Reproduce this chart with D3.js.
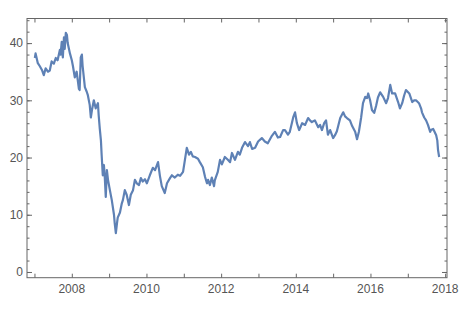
<!DOCTYPE html>
<html>
<head>
<meta charset="utf-8">
<script src="https://cdn.jsdelivr.net/npm/d3@7"></script>
<style>
  body { margin: 0; background: #fff; }
  svg { display: block; }
</style>
</head>
<body>
<div id="chart"></div>
<script>
// decimal year of each sample
const dates = [
  2007.01, 2007.03, 2007.09, 2007.14, 2007.20, 2007.25, 2007.30, 2007.36, 2007.41, 2007.46,
  2007.52, 2007.57, 2007.62, 2007.68, 2007.70, 2007.73, 2007.76, 2007.79, 2007.81, 2007.84,
  2007.87, 2007.89, 2007.95, 2008.00, 2008.03, 2008.08, 2008.13, 2008.19, 2008.21, 2008.24,
  2008.27, 2008.29, 2008.35, 2008.40, 2008.43, 2008.48, 2008.51, 2008.54, 2008.59, 2008.64,
  2008.70, 2008.72, 2008.75, 2008.78, 2008.80, 2008.83, 2008.86, 2008.88, 2008.91, 2008.94,
  2008.97, 2009.02, 2009.07, 2009.13, 2009.15, 2009.18, 2009.21, 2009.23, 2009.29, 2009.34,
  2009.37, 2009.42, 2009.47, 2009.53, 2009.58, 2009.64, 2009.69, 2009.74, 2009.80, 2009.85,
  2009.90, 2009.96, 2010.01, 2010.09, 2010.17, 2010.23, 2010.31, 2010.36, 2010.41, 2010.49,
  2010.55, 2010.63, 2010.68, 2010.76, 2010.84, 2010.90, 2010.98, 2011.03, 2011.08, 2011.14,
  2011.19, 2011.24, 2011.30, 2011.38, 2011.43, 2011.51, 2011.57, 2011.62, 2011.65, 2011.70,
  2011.75, 2011.81, 2011.83, 2011.91, 2011.97, 2012.02, 2012.10, 2012.18, 2012.24, 2012.29,
  2012.37, 2012.45, 2012.50, 2012.56, 2012.64, 2012.72, 2012.77, 2012.83, 2012.91, 2012.99,
  2013.09, 2013.17, 2013.25, 2013.36, 2013.44, 2013.52, 2013.58, 2013.66, 2013.71, 2013.79,
  2013.84, 2013.93, 2013.98, 2014.03, 2014.09, 2014.17, 2014.25, 2014.33, 2014.38, 2014.43,
  2014.51, 2014.60, 2014.65, 2014.70, 2014.76, 2014.81, 2014.86, 2014.92, 2015.00, 2015.05,
  2015.10, 2015.19, 2015.27, 2015.32, 2015.37, 2015.45, 2015.51, 2015.59, 2015.64, 2015.69,
  2015.75, 2015.80, 2015.86, 2015.91, 2015.94, 2015.99, 2016.04, 2016.10, 2016.15, 2016.20,
  2016.26, 2016.34, 2016.42, 2016.47, 2016.53, 2016.58, 2016.66, 2016.74, 2016.79, 2016.85,
  2016.90, 2016.95, 2017.04, 2017.12, 2017.17, 2017.22, 2017.30, 2017.36, 2017.38, 2017.44,
  2017.49, 2017.54, 2017.60, 2017.62, 2017.68, 2017.71, 2017.76, 2017.79, 2017.81, 2017.84
];

const prices = [
  37.4, 38.2, 36.5, 36.0, 35.3, 34.4, 35.6, 35.0, 35.2, 36.8,
  36.4, 37.4, 37.0, 38.8, 38.0, 40.2, 37.5, 41.0, 39.0, 41.8,
  41.4, 40.0, 38.2, 37.0, 36.0, 34.0, 35.0, 32.0, 31.8, 37.5,
  38.0, 36.0, 32.3, 31.5, 30.9, 29.2, 27.0, 28.3, 30.0, 28.6,
  29.5, 27.4, 25.0, 23.0, 20.4, 16.9, 18.7, 17.0, 13.1, 17.8,
  16.1, 14.3, 12.6, 10.0, 8.5, 6.8, 8.5, 9.5, 10.4, 12.0,
  12.6, 14.3, 13.5, 11.7, 13.5, 14.3, 16.1, 15.5, 15.2, 16.4,
  15.8, 16.2, 15.5, 16.9, 18.2, 17.8, 19.2, 16.8, 15.0, 13.8,
  15.5, 16.4, 16.9, 16.5, 17.0, 16.8, 17.5, 19.6, 21.7, 20.5,
  21.0, 20.2, 20.1, 19.8, 19.2, 18.3, 16.6, 15.5, 16.1, 15.2,
  16.5, 15.0, 16.0, 17.5, 19.6, 18.8, 20.1, 19.6, 19.2, 20.8,
  19.6, 21.0, 20.5, 21.7, 22.7, 22.0, 22.7, 21.5, 21.7, 22.8,
  23.4, 22.8, 22.5, 23.8, 24.5, 23.5, 23.6, 24.8, 24.8, 24.0,
  24.5, 27.0, 27.9, 26.0, 24.8, 26.0, 25.7, 26.9, 26.5, 26.2,
  26.5, 25.3, 25.7, 24.8, 26.0, 26.5, 24.0, 24.8, 23.4, 23.9,
  24.6, 26.9, 27.9, 27.2, 26.9, 26.5, 25.5, 24.5, 23.2, 24.5,
  27.0, 29.5, 30.6, 30.4, 31.2, 30.0, 28.3, 27.8, 29.0, 30.5,
  31.4, 30.6, 29.5, 30.4, 32.7, 31.2, 31.2, 29.7, 28.6, 29.5,
  30.8, 31.8, 31.2, 29.7, 30.0, 30.0, 29.5, 28.5, 27.9, 27.0,
  26.5, 25.7, 24.5, 24.8, 25.0, 24.6, 23.9, 23.0, 21.3, 20.1
];

const yearTicks = d3.range(2007, 2019);
const yearLabels = [2008, 2010, 2012, 2014, 2016, 2018];
const yMajor = [0, 10, 20, 30, 40];
const yMinor = d3.range(0, 45, 2);

const width = 469, height = 316;
const frame = { left: 27, right: 447, top: 18.5, bottom: 277.7 };
const axisColor = '#666';
const labelColor = '#555';

const svg = d3.select('#chart').append('svg')
  .attr('width', width)
  .attr('height', height);

const x = d3.scaleLinear().domain([2006.8, 2018.05]).range([frame.left, frame.right]);
const y = d3.scaleLinear().domain([-1, 44.3]).range([frame.bottom, frame.top]);

const data = dates.map((d, i) => ({ t: d, v: prices[i] }));

// series
svg.append('path')
  .datum(data)
  .attr('fill', 'none')
  .attr('stroke', '#5e81b5')
  .attr('stroke-width', 2.2)
  .attr('stroke-linejoin', 'round')
  .attr('d', d3.line().x(d => x(d.t)).y(d => y(d.v)));

// frame axes (ticks on all four sides, pointing inward)
const axisB = svg.append('g')
  .attr('transform', `translate(0,${frame.bottom})`)
  .call(d3.axisBottom(x).tickValues(yearTicks).tickSize(-4).tickFormat(''));
const axisT = svg.append('g')
  .attr('transform', `translate(0,${frame.top})`)
  .call(d3.axisTop(x).tickValues(yearTicks).tickSize(-4).tickFormat(''));
const axisL = svg.append('g')
  .attr('transform', `translate(${frame.left},0)`)
  .call(d3.axisLeft(y).tickValues(yMinor).tickSize(-2.5).tickFormat(''));
const axisR = svg.append('g')
  .attr('transform', `translate(${frame.right},0)`)
  .call(d3.axisRight(y).tickValues(yMinor).tickSize(-2.5).tickFormat(''));
const axisLMaj = svg.append('g')
  .attr('transform', `translate(${frame.left},0)`)
  .call(d3.axisLeft(y).tickValues(yMajor).tickSize(-5).tickFormat(''));
const axisRMaj = svg.append('g')
  .attr('transform', `translate(${frame.right},0)`)
  .call(d3.axisRight(y).tickValues(yMajor).tickSize(-5).tickFormat(''));

[axisB, axisT, axisL, axisR, axisLMaj, axisRMaj].forEach(g => {
  g.select('.domain').remove();
  g.selectAll('.tick line').attr('stroke', axisColor).attr('stroke-width', 1);
});

// frame outline
svg.append('rect')
  .attr('x', frame.left)
  .attr('y', frame.top)
  .attr('width', frame.right - frame.left)
  .attr('height', frame.bottom - frame.top)
  .attr('fill', 'none')
  .attr('stroke', axisColor)
  .attr('stroke-width', 1);

// tick labels
svg.append('g')
  .selectAll('text')
  .data(yearLabels)
  .enter()
  .append('text')
  .attr('x', d => x(d))
  .attr('y', 293)
  .attr('text-anchor', 'middle')
  .attr('font-family', 'Liberation Sans, Arial, sans-serif')
  .attr('font-size', '12px')
  .attr('fill', labelColor)
  .text(d => d);

svg.append('g')
  .selectAll('text')
  .data(yMajor)
  .enter()
  .append('text')
  .attr('x', 23)
  .attr('y', d => y(d))
  .attr('dy', '0.35em')
  .attr('text-anchor', 'end')
  .attr('font-family', 'Liberation Sans, Arial, sans-serif')
  .attr('font-size', '12px')
  .attr('fill', labelColor)
  .text(d => d);
</script>
</body>
</html>
